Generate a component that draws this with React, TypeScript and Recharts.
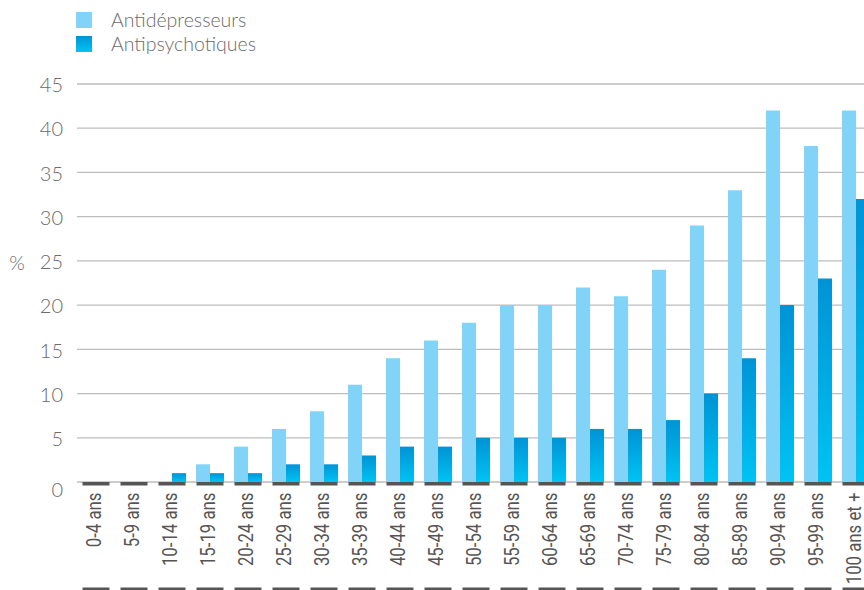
import React from 'react';
import { BarChart, Bar, XAxis, YAxis, CartesianGrid, Legend } from 'recharts';

const ages = ['0-4 ans', '5-9 ans', '10-14 ans', '15-19 ans', '20-24 ans', '25-29 ans', '30-34 ans', '35-39 ans', '40-44 ans', '45-49 ans', '50-54 ans', '55-59 ans', '60-64 ans', '65-69 ans', '70-74 ans', '75-79 ans', '80-84 ans', '85-89 ans', '90-94 ans', '95-99 ans', '100 ans et +'];
const antidepresseurs = [0, 0, 0, 2, 4, 6, 8, 11, 14, 16, 18, 20, 20, 22, 21, 24, 29, 33, 42, 38, 42];
const antipsychotiques = [0, 0, 1, 1, 1, 2, 2, 3, 4, 4, 5, 5, 5, 6, 6, 7, 10, 14, 20, 23, 32];
const yTicks = [0, 5, 10, 15, 20, 25, 30, 35, 40, 45];
const seriesNames = ['Antidépresseurs', 'Antipsychotiques'];

const data = ages.map((age, i) => ({ age, ad: antidepresseurs[i], ap: antipsychotiques[i] }));

const LIGHT = '#81d4f7';
const LABEL_FONT = "'Lato', 'Open Sans', sans-serif";
const NARROW_FONT = "Roboto, 'Noto Sans', sans-serif";

const XTick = (props: any) => {
  const { x, y, payload } = props;
  const ty = y + 10.5;
  return (
    <g>
      <rect x={x - 13.5} y={y} width={27} height={3.5} fill="#555555" />
      <text
        x={0}
        y={0}
        transform={`translate(${x - 1}, ${ty}) rotate(-90) scale(0.84, 1)`}
        textAnchor="end"
        dy="0.32em"
        fontFamily={NARROW_FONT}
        fontSize={20}
        fill="#555555"
      >
        {payload.value}
      </text>
      <rect x={x - 13.5} y={y + 105.5} width={27} height={6} fill="#555555" />
    </g>
  );
};

const YTick = (props: any) => {
  const { x, y, payload } = props;
  const extra = payload.value === 0 ? 8 : 1;
  return (
    <text x={x} y={y + extra} dy="0.36em" textAnchor="end" fontFamily={LABEL_FONT} fontWeight={300} fontSize={20} fill="#6b6b6b">
      {payload.value}
    </text>
  );
};

const LegendContent = () => (
  <div style={{ fontFamily: LABEL_FONT, fontWeight: 300, fontSize: 19.5, color: '#6b6b6b' }}>
    {seriesNames.map((name, i) => (
      <div key={name} style={{ display: 'flex', alignItems: 'center', height: 24 }}>
        <div
          style={{
            width: 16,
            height: 16,
            background: i === 0 ? LIGHT : 'linear-gradient(#0093d5, #00c3f3)',
            marginRight: 19,
          }}
        />
        <span style={{ lineHeight: '24px' }}>{name}</span>
      </div>
    ))}
  </div>
);

const PercentLabel = () => (
  <text x={17} y={263} dy="0.36em" textAnchor="middle" fontFamily={LABEL_FONT} fontWeight={300} fontSize={20} fill="#6b6b6b">
    %
  </text>
);

export default function App() {
  return (
    <div style={{ position: 'absolute', left: 0, top: 0, width: 864, height: 590, overflow: 'hidden', background: '#fff' }}>
      <BarChart width={880} height={590} data={data} margin={{ top: 84, right: 5, bottom: 0, left: 0 }} barGap={0}>
        <defs>
          <linearGradient id="gradAP" x1="0" y1="0" x2="0" y2="1">
            <stop offset="0%" stopColor="#0093d5" />
            <stop offset="100%" stopColor="#00c3f3" />
          </linearGradient>
        </defs>
        <CartesianGrid vertical={false} stroke="#bdbdbd" strokeWidth={1.3} />
        <XAxis dataKey="age" interval={0} tickLine={false} axisLine={false} tickSize={0} tickMargin={0} height={108} tick={<XTick />} />
        <YAxis
          width={77}
          domain={[0, 45]}
          ticks={yTicks}
          tickLine={false}
          axisLine={false}
          tickSize={0}
          tickMargin={14}
          tick={<YTick />}
          label={<PercentLabel />}
        />
        <Legend
          layout="vertical"
          align="center"
          verticalAlign="middle"
          content={<LegendContent />}
          wrapperStyle={{ position: 'absolute', top: 8, left: 76, width: 'auto' }}
        />
        <Bar dataKey="ad" name={seriesNames[0]} fill={LIGHT} barSize={14} isAnimationActive={false} />
        <Bar dataKey="ap" name={seriesNames[1]} fill="url(#gradAP)" barSize={14} isAnimationActive={false} />
      </BarChart>
    </div>
  );
}
